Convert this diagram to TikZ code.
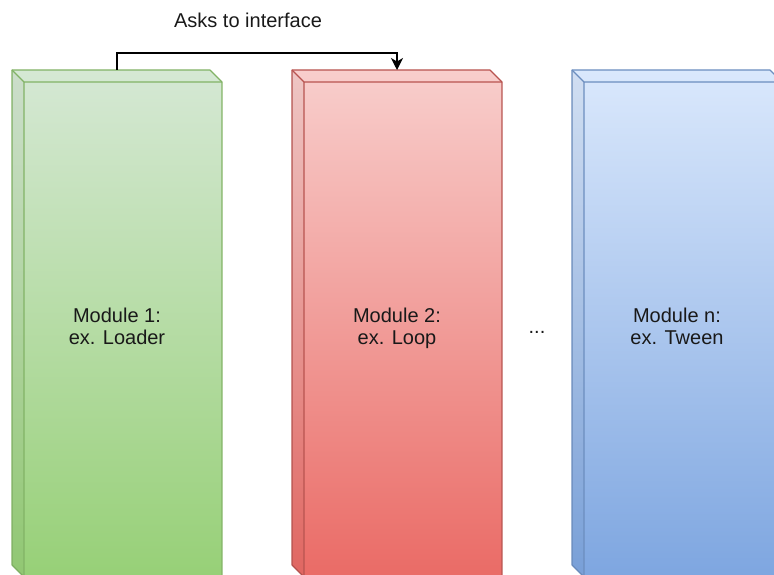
\documentclass[tikz,border=0pt]{standalone}
\usepackage{fontspec}
\setmainfont{Liberation Sans}
\usetikzlibrary{arrows.meta}
\definecolor{gtop}{HTML}{D5E8D4}\definecolor{gbot}{HTML}{97D077}\definecolor{gstr}{HTML}{82B366}
\definecolor{rtop}{HTML}{F8CECC}\definecolor{rbot}{HTML}{EA6B66}\definecolor{rstr}{HTML}{B85450}
\definecolor{btop}{HTML}{DAE8FC}\definecolor{bbot}{HTML}{7EA6E0}\definecolor{bstr}{HTML}{6C8EBF}
\newcommand{\drawcube}[7]{%
  \path[draw=#7, line width=1.1pt, top color=#5, bottom color=#6, line join=round]
    (#1,#2) -- ({#1+#3-12},#2) -- ({#1+#3},{#2+12}) -- ({#1+#3},{#2+#4}) -- ({#1+12},{#2+#4}) -- (#1,{#2+#4-12}) -- cycle;
  \fill[black, opacity=0.04] (#1,#2) -- ({#1+12},{#2+12}) -- ({#1+12},{#2+#4}) -- (#1,{#2+#4-12}) -- cycle;
  \draw[#7, line width=1.1pt, line join=round]
    (#1,#2) -- ({#1+12},{#2+12}) -- ({#1+#3},{#2+12})
    ({#1+12},{#2+12}) -- ({#1+12},{#2+#4});
}
\begin{document}
\begin{tikzpicture}[x=1pt,y=-1pt,
  lbl/.style={font=\fontsize{20}{22}\selectfont, text=black!90, align=center, inner sep=0pt},
  conn/.style={line width=1.2pt, black, -{Stealth[length=12pt,width=12pt,inset=3.5pt]}}]
\useasboundingbox (0,0) rectangle (774,575);
\begin{scope}
  \clip (0,0) rectangle (774,575);
  \drawcube{12}{70}{210}{507}{gtop}{gbot}{gstr}
  \drawcube{292}{70}{210}{507}{rtop}{rbot}{rstr}
  \drawcube{572}{70}{210}{507}{btop}{bbot}{bstr}
\end{scope}
\coordinate (g1) at (117,70);
\coordinate (r1) at (397,70);
\node[lbl] (m1) at (117,328) {Module 1:\\ex. Loader\vphantom{p}};
\node[lbl] (m2) at (397,328) {Module 2:\\ex. Loop\vphantom{p}};
\node[lbl] (mn) at (677,328) {Module n:\\ex. Tween\vphantom{p}};
\node[lbl, anchor=base] (dots) at (537,333) {...};
\node[lbl, anchor=base] (ask) at (248,28) {Asks to interface};
\draw[conn] (g1) -- ++(0,-17) -| (r1);
\end{tikzpicture}
\end{document}
